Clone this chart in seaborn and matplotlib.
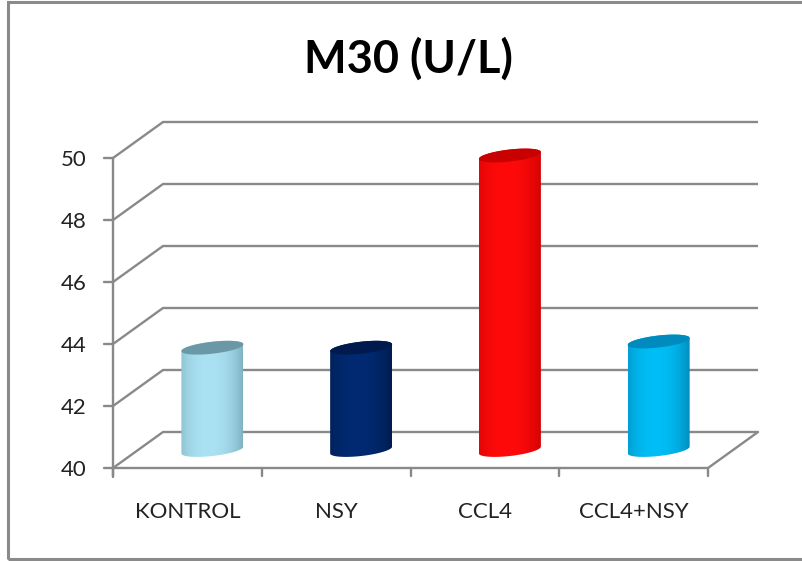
import numpy as np
import pandas as pd
import matplotlib
matplotlib.use("Agg")
import matplotlib.pyplot as plt
from matplotlib.patches import Polygon, Rectangle
import seaborn as sns

# ---- data ----
groups = ["KONTROL", "NSY", "CCL4", "CCL4+NSY"]
values = [43.3, 43.3, 49.5, 43.5]
y_ticks = [40, 42, 44, 46, 48, 50]
title = "M30 (U/L)"

# cylinder colours: (side edge, side highlight, top cap)
edge_cols = ["#6E9FAE", "#00163F", "#C00000", "#0078A6"]
light_cols = ["#ABE2F3", "#002A72", "#FF0A0A", "#00BEF6"]
cap_cols = ["#6B98A6", "#001A4D", "#C80000", "#008BBE"]

df = pd.DataFrame({"group": groups, "value": values})

# ---- figure / pixel geometry ----
W, H = 803, 561
fig = plt.figure(figsize=(W / 100, H / 100), dpi=100)
sns.set_style("white")
plt.rcParams["font.family"] = ["Lato", "DejaVu Sans"]
ax = fig.add_axes([0, 0, 1, 1])

PX_CAT = 148.75     # pixels per category step
X0_PX = 187.4       # pixel x of first category centre (front)
PX_UNIT = 31.0      # pixels per value unit
Y40_PX = 468.0      # pixel y (from top) of value 40 on the front axis
DX = 50 / PX_CAT    # depth offset (x, data units)
DY = 36 / PX_UNIT   # depth offset (y, data units)


def xd(px):
    return (px - X0_PX) / PX_CAT


def yd(py):
    return 40 + (Y40_PX - py) / PX_UNIT


sns.barplot(data=df, x="group", y="value", hue="group", order=groups,
            hue_order=groups, palette=light_cols, width=62 / PX_CAT,
            legend=False, ax=ax)

ax.set_xlim(xd(0), xd(W))
ax.set_ylim(yd(H), yd(0))
ax.axis("off")

grid_col = "#898989"
glw = 1.7
x_left = -0.5
x_right = len(groups) - 0.5

# back wall gridlines with the perspective step
for v in y_ticks:
    ax.plot([x_left, x_left + DX, x_right + DX], [v, v + DY, v + DY],
            color=grid_col, lw=glw, solid_capstyle="butt", zorder=1)

# floor: front edge and right side
ax.plot([x_left, x_right, x_right + DX], [40, 40, 40 + DY],
        color=grid_col, lw=glw, zorder=1)

# front value axis with outward ticks
tick_len_x = 9 / PX_CAT
ax.plot([x_left, x_left], [y_ticks[-1], 40 - 9 / PX_UNIT],
        color=grid_col, lw=glw, zorder=1)
for v in y_ticks:
    ax.plot([x_left - tick_len_x, x_left], [v, v], color=grid_col, lw=glw, zorder=1)
    ax.text(xd(87), v - 2 / PX_UNIT, f"{v}", ha="right", va="center",
            fontsize=16, color="#222222")

# category ticks and labels
for k in range(len(groups) + 1):
    xk = x_left + k
    ax.plot([xk, xk], [40, 40 - 8 / PX_UNIT], color=grid_col, lw=glw, zorder=1)
for i, g in enumerate(groups):
    ax.text(i, yd(511.5), g, ha="center", va="center", fontsize=16,
            color="#222222")

# ---- cylinders built on the seaborn bar geometry ----
a_px, b_px, shear = 31.0, 6.0, 0.11
t = np.linspace(0, 2 * np.pi, 200)


def ellipse_pts(cx, cy, tt):
    ex = a_px * np.cos(tt)
    ey = b_px * np.sin(tt) + shear * ex
    return cx + ex / PX_CAT, cy + ey / PX_UNIT


base = 40 + DY / 2
for i, patch in enumerate(ax.patches):
    patch.set_visible(False)
    cx = patch.get_x() + patch.get_width() / 2 + DX / 2
    top = patch.get_height() + DY / 2

    # body outline: front half of bottom ellipse, then back half of top ellipse
    tb = np.linspace(np.pi, 2 * np.pi, 100)
    bx, by = ellipse_pts(cx, base, tb)
    tt = np.linspace(0, np.pi, 100)
    tx, ty = ellipse_pts(cx, top, tt)
    body = Polygon(np.column_stack([np.r_[bx, tx], np.r_[by, ty]]),
                   closed=True, facecolor="none", edgecolor="none")
    ax.add_patch(body)

    # horizontal shading across the cylinder
    u = np.linspace(0, 1, 256)
    f = np.clip(1 - ((u - 0.45) / 0.6) ** 2, 0, 1) ** 0.7
    c0 = np.array(matplotlib.colors.to_rgb(edge_cols[i]))
    c1 = np.array(matplotlib.colors.to_rgb(light_cols[i]))
    grad = (c0[None, :] * (1 - f[:, None]) + c1[None, :] * f[:, None])[None, :, :]
    x0 = cx - a_px / PX_CAT
    x1 = cx + a_px / PX_CAT
    im = ax.imshow(grad, extent=(x0, x1, base - 12 / PX_UNIT, top + 12 / PX_UNIT),
                   aspect="auto", interpolation="bilinear", zorder=2)
    im.set_clip_path(body)

    # top cap
    cxs, cys = ellipse_pts(cx, top, t)
    ax.add_patch(Polygon(np.column_stack([cxs, cys]), closed=True,
                         facecolor=cap_cols[i], edgecolor="none", zorder=3))

ax.set_xlim(xd(0), xd(W))
ax.set_ylim(yd(H), yd(0))

# title
fig.text(408 / W, 1 - 73 / H, title, ha="center", va="baseline",
         fontsize=32.5, fontweight="bold", color="black")

# outer chart border
fig.patches.append(Rectangle((8 / W, 1 - 559 / H), 1.2, (559 - 2) / H,
                             transform=fig.transFigure, fill=False,
                             edgecolor="#8A8A8A", linewidth=2.2))

fig.savefig("out.png", dpi=100)
